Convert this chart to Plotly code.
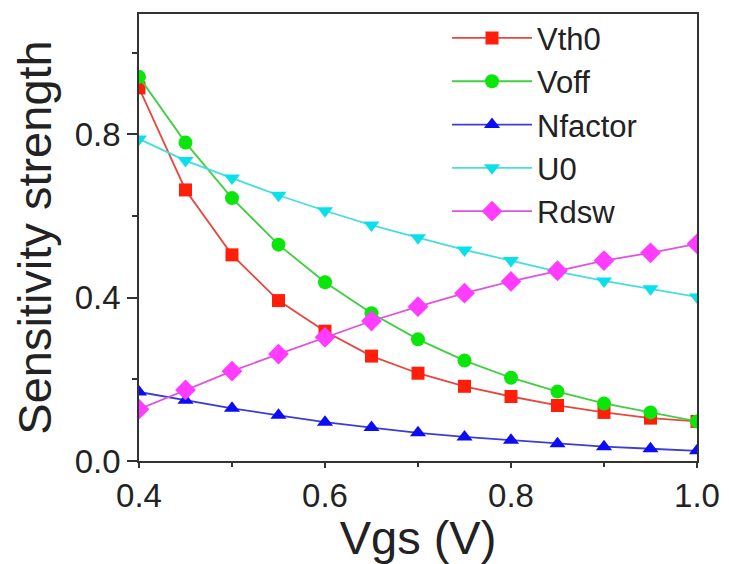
import plotly.graph_objects as go

vgs = [0.40, 0.45, 0.50, 0.55, 0.60, 0.65, 0.70, 0.75, 0.80, 0.85, 0.90, 0.95, 1.00]

vth0 = [0.914, 0.664, 0.505, 0.393, 0.318, 0.257, 0.215, 0.183, 0.158, 0.136, 0.119, 0.105, 0.097]
voff = [0.941, 0.780, 0.644, 0.530, 0.438, 0.362, 0.298, 0.246, 0.204, 0.170, 0.141, 0.119, 0.097]
nfactor = [0.169, 0.149, 0.129, 0.112, 0.095, 0.082, 0.069, 0.059, 0.051, 0.042, 0.035, 0.030, 0.025]
u0 = [0.789, 0.736, 0.693, 0.651, 0.613, 0.578, 0.547, 0.517, 0.491, 0.464, 0.441, 0.422, 0.402]
rdsw = [0.127, 0.174, 0.220, 0.262, 0.303, 0.343, 0.378, 0.411, 0.440, 0.466, 0.491, 0.510, 0.532]

series = [
    ("Vth0", vth0, "square", "#e5483e", "#ff1e0a", 13),
    ("Voff", voff, "circle", "#3fcf3f", "#0ae60a", 14),
    ("Nfactor", nfactor, "triangle-up", "#3c3cd6", "#0c0cf5", 14),
    ("U0", u0, "triangle-down", "#45dede", "#0ae0ea", 14),
    ("Rdsw", rdsw, "diamond", "#e052e0", "#ff3cff", 16),
]

FONT = "Liberation Sans, Arial, sans-serif"

fig = go.Figure()
for name, ys, sym, lc, mc, ms in series:
    fig.add_trace(go.Scatter(
        x=vgs, y=ys, name=name, mode="lines+markers",
        line=dict(color=lc, width=1.8),
        marker=dict(symbol=sym, color=mc, size=ms, line=dict(width=0)),
    ))

axis_common = dict(
    showline=True, linecolor="#333", linewidth=1.5, mirror=True,
    showgrid=False, zeroline=False, automargin=False,
    ticks="outside", tickwidth=1.5, tickcolor="#333",
    tickfont=dict(family=FONT, size=33, color="#222"),
)

fig.update_layout(
    width=729, height=564,
    margin=dict(l=139, r=32, t=11, b=103),
    paper_bgcolor="white", plot_bgcolor="white",
    font=dict(family=FONT, color="#222"),
    showlegend=True,
    legend=dict(
        x=0.552, y=1.006, xanchor="left", yanchor="top",
        bgcolor="rgba(0,0,0,0)", borderwidth=0,
        font=dict(family=FONT, size=31, color="#222"),
        itemwidth=80, tracegroupgap=0,
    ),
    xaxis=dict(
        axis_common, range=[0.4, 1.0], tickvals=[0.4, 0.6, 0.8, 1.0],
        ticktext=["0.4", "0.6", "0.8", "1.0"], ticklen=5,
        minor=dict(tickvals=[0.5, 0.7, 0.9], ticklen=4, tickwidth=1.5, tickcolor="#333", ticks="outside"),
        title=dict(text="Vgs (V)", font=dict(family=FONT, size=47, color="#222"), standoff=0),
    ),
    yaxis=dict(
        axis_common, range=[0, 1.095], tickvals=[0.0, 0.4, 0.8],
        ticktext=["0.0", "0.4", "0.8"], ticklen=10,
        minor=dict(tickvals=[0.2, 0.6, 1.0], ticklen=5, tickwidth=1.5, tickcolor="#333", ticks="outside"),
        title=dict(text="Sensitivity strength", font=dict(family=FONT, size=47, color="#222"), standoff=8),
    ),
    xaxis2=dict(
        overlaying="x", side="top", matches="x", range=[0.4, 1.0], automargin=False,
        showline=False, showgrid=False, zeroline=False, showticklabels=False,
        ticks="inside", ticklen=8, tickwidth=1.5, tickcolor="#333",
        tickvals=[0.4, 0.6, 0.8, 1.0],
        minor=dict(tickvals=[0.5, 0.7, 0.9], ticklen=5, tickwidth=1.5, tickcolor="#333", ticks="inside"),
    ),
    yaxis2=dict(
        overlaying="y", side="right", matches="y", range=[0, 1.095], automargin=False,
        showline=False, showgrid=False, zeroline=False, showticklabels=False,
        ticks="inside", ticklen=9, tickwidth=1.5, tickcolor="#333",
        tickvals=[0.0, 0.4, 0.8],
        minor=dict(tickvals=[0.2, 0.6, 1.0], ticklen=6, tickwidth=1.5, tickcolor="#333", ticks="inside"),
    ),
)

fig.write_html("out.html", config={"displayModeBar": False},
               post_script="document.body.style.margin='0px';")
